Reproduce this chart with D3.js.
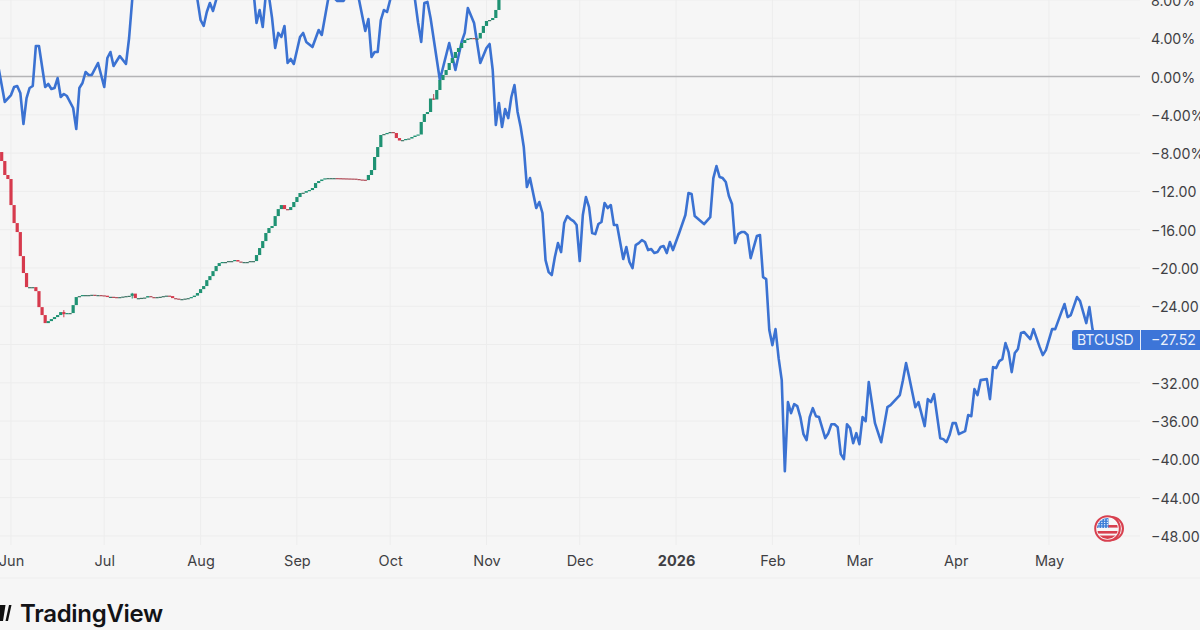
<!DOCTYPE html>
<html>
<head>
<meta charset="utf-8">
<title>BTCUSD performance</title>
<script src="https://cdn.jsdelivr.net/npm/d3@7"></script>
<style>
  html, body { margin: 0; padding: 0; background: #f6f6f6; overflow: hidden; }
  svg { display: block; }
  text { font-family: Inter, Roboto, "Open Sans", sans-serif; }
</style>
</head>
<body>
<svg id="chart" width="1200" height="630"></svg>
<script>
// Day numbers count from 1 June 2025; values are percentage change.
const btcDays = [-4,-2,0,1,2,3,4,5,6,7,8,9,11,12,13,14,15,16,17,18,20,21,22,23,24,25,26,28,30,31,32,33,35,37,38,39,41,46,50,55,59,60,61,62,63,64,65,66,70,74,78,79,80,81,82,83,84,85,86,87,88,89,90,91,93,94,95,97,99,100,102,103,105,106,107,110,112,114,115,116,117,118,119,120,121,122,124,127,130,131,132,133,134,135,138,141,143,145,146,147,149,151,153,154,155,156,157,158,159,160,161,162,163,164,165,166,167,169,170,171,172,173,174,175,176,177,178,179,180,181,182,183,184,185,186,187,188,189,190,191,192,193,194,195,197,198,199,200,201,202,203,204,205,206,207,208,209,210,211,212,213,215,217,218,219,220,223,225,226,227,228,229,230,231,232,233,234,235,236,237,238,240,241,242,243,244,245,246,247,248,249,250,251,252,253,254,255,256,257,258,259,260,262,263,264,265,266,267,268,269,270,271,272,273,274,275,276,278,280,282,283,286,287,288,289,291,292,294,295,296,297,299,300,301,302,303,304,305,307,308,309,310,311,312,314,315,316,317,318,319,320,321,322,323,324,325,326,328,329,331,332,333,335,336,338,339,340,341,343,344,346,347,348,349];
const btcValues = [0.89,-2.66,-1.94,-1.10,-0.99,-1.72,-4.96,-2.25,-1.20,-0.99,3.19,3.19,-1.10,-0.78,-1.31,-1.20,-0.16,-2.14,-1.83,-2.04,-3.29,-5.49,-1.20,-0.68,0.47,0.16,0.16,1.41,-1.10,1.93,2.56,1.10,2.14,1.31,4.02,7.99,12,14,13,15,12,8.0,5.90,5.28,6.74,7.68,6.84,7.99,11,12.5,9,5.59,6.95,5.17,8.6,8.4,6.11,2.98,4.55,4.13,5.28,1.41,1.83,1.31,4.13,4.55,3.61,3.08,4.86,4.34,7.99,8.5,7.89,7.89,7.9,9.5,8.0,4.75,6.01,2.04,2.56,2.56,5.90,6.95,6.74,8.0,10,11.5,8,5.59,3.61,7.68,7.79,6.11,-0.37,3.50,0.68,3.61,4.55,7.16,5.59,1.41,2.98,3.40,0.68,-5.07,-2.77,-5.28,-3.40,-4.34,-2.14,-0.89,-3.71,-5.28,-7.37,-11.55,-10.61,-13.74,-13.11,-14.26,-19.18,-20.43,-20.74,-18.86,-17.40,-18.34,-15.31,-14.58,-14.89,-15.10,-15.52,-19.28,-14.47,-12.59,-13.64,-16.35,-16.46,-15.41,-15.20,-13.22,-13.74,-13.43,-15.52,-15.52,-19.07,-17.82,-19.38,-20.01,-17.61,-17.40,-17.09,-17.29,-18.13,-18.03,-18.44,-18.34,-17.82,-17.71,-18.44,-17.29,-18.13,-16.35,-14.47,-12.17,-12.28,-14.58,-15.41,-14.68,-10.61,-9.35,-10.50,-10.61,-11.02,-12.49,-13.32,-17.40,-16.46,-16.25,-16.25,-16.56,-18.97,-16.67,-16.56,-20.95,-21.16,-26.49,-28.06,-26.39,-29.42,-31.72,-41.23,-34.02,-35.17,-34.23,-34.44,-35.58,-37.36,-37.99,-35.58,-34.64,-35.48,-35.58,-37.78,-37.26,-36.32,-36.32,-36.63,-39.45,-39.97,-36.32,-36.73,-38.30,-37.26,-38.41,-35.58,-36.00,-31.92,-36.21,-38.20,-34.54,-34.33,-33.28,-31.72,-29.94,-31.40,-34.54,-34.02,-36.52,-33.70,-34.02,-33.18,-37.78,-37.88,-38.20,-37.46,-36.21,-36.21,-37.36,-37.05,-35.37,-35.48,-32.66,-33.28,-31.72,-31.61,-33.70,-30.36,-30.46,-29.73,-29.52,-27.85,-28.79,-30.88,-28.89,-28.47,-26.80,-26.70,-27.43,-26.39,-28.27,-29.10,-28.58,-26.39,-26.39,-24.61,-23.77,-25.13,-24.92,-23.04,-23.46,-25.76,-24.09,-26.39,-27.52];

// Daily closes of the compared symbol; each candle opens at the previous close.
const candleFirstDay = -3;
const candleFirstOpen = -7.89;
const candleCloses = [-8.83,-10.29,-10.71,-13.43,-15.31,-16.25,-18.76,-20.53,-22.0,-22.0,-22.0,-22.42,-24.09,-24.92,-25.76,-25.55,-25.34,-25.13,-24.92,-24.61,-24.82,-24.71,-24.71,-23.88,-23.04,-22.94,-22.83,-22.83,-22.83,-22.8,-22.85,-22.83,-22.86,-22.9,-23.04,-23.01,-23.04,-23.12,-23.04,-22.99,-22.94,-22.91,-22.68,-23.15,-23.15,-23.12,-23.09,-22.94,-23.04,-23.09,-23.04,-23.01,-22.94,-22.89,-22.94,-23.15,-23.2,-23.25,-23.25,-23.2,-23.15,-23.04,-22.89,-22.62,-22.21,-21.89,-21.27,-20.85,-20.33,-19.8,-19.49,-19.38,-19.38,-19.28,-19.28,-19.17,-19.33,-19.38,-19.38,-19.38,-19.28,-19.28,-18.65,-17.92,-17.19,-16.35,-15.83,-15.62,-14.58,-13.85,-13.43,-13.85,-13.95,-13.64,-13.11,-12.59,-12.17,-12.14,-11.97,-11.86,-11.65,-11.13,-10.92,-10.76,-10.64,-10.61,-10.61,-10.61,-10.62,-10.63,-10.64,-10.65,-10.66,-10.67,-10.71,-10.76,-10.78,-10.82,-10.29,-9.77,-8.41,-7.37,-6.11,-6.01,-5.90,-5.80,-5.90,-6.43,-6.69,-6.64,-6.53,-6.48,-6.32,-6.17,-6.06,-4.75,-3.92,-3.71,-2.30,-2.40,-1.41,-0.37,0.16,0.68,1.41,1.93,2.56,2.98,3.50,3.81,3.97,4.02,3.92,3.97,4.55,5.28,5.80,5.90,6.11,6.95,8.1];
const wickDays = [17, 39, 136];
const wickHighs = [-24.40, -22.60, -1.83];
const wickLows = [-25.15, -23.20, -2.45];

const yTicks = [8,4,0,-4,-8,-12,-16,-20,-24,-28,-32,-36,-40,-44,-48];
// The price tag covers the -28 position, so that row carries no scale label.
const yLabelTicks = [8,4,0,-4,-8,-12,-16,-20,-24,-32,-36,-40,-44,-48];
const monthTicks = ["2025-06-01","2025-07-01","2025-08-01","2025-09-01","2025-10-01","2025-11-01","2025-12-01","2026-01-01","2026-02-01","2026-03-01","2026-04-01","2026-05-01"];
const monthLabels = ["Jun","Jul","Aug","Sep","Oct","Nov","Dec","2026","Feb","Mar","Apr","May"];
const symbolName = "BTCUSD";
const lastValueText = "\u221227.52";
const brandName = "TradingView";

const paneRight = 1140;
const gridBottom = 545;
const axisRule = 578;

const origin = Date.UTC(2025, 5, 1);
const dayDate = d => new Date(origin + d * 864e5);
const monthDates = monthTicks.map(s => new Date(s + "T00:00:00Z"));

const x = d3.scaleUtc().domain([monthDates[0], monthDates[11]]).range([11, 1049]);
const y = d3.scaleLinear().domain([0, -48]).range([76.5, 536]);

const svg = d3.select("#chart");
svg.append("rect").attr("width", 1200).attr("height", 630).attr("fill", "#f6f6f6");

// Grid
const grid = svg.append("g");
grid.selectAll("line.h").data(yTicks).join("line").attr("class", "h")
  .attr("x1", 0).attr("x2", paneRight)
  .attr("y1", d => y(d)).attr("y2", d => y(d))
  .attr("stroke", "#ededed").attr("stroke-width", 1);
grid.selectAll("line.v").data(monthDates).join("line").attr("class", "v")
  .attr("x1", d => x(d)).attr("x2", d => x(d))
  .attr("y1", 0).attr("y2", gridBottom)
  .attr("stroke", "#ededed").attr("stroke-width", 1);
svg.append("line").attr("x1", 0).attr("x2", 1200).attr("y1", axisRule).attr("y2", axisRule)
  .attr("stroke", "#eeeeee");

// Zero baseline
svg.append("line").attr("x1", 0).attr("x2", paneRight)
  .attr("y1", y(0)).attr("y2", y(0))
  .attr("stroke", "#b4b4b6").attr("stroke-width", 1.3);

// BTC line
const btcPoints = btcDays.map((d, i) => [dayDate(d), btcValues[i]]);
const lastPoint = btcPoints[btcPoints.length - 1];
svg.append("path").datum(btcPoints)
  .attr("fill", "none").attr("stroke", "#3b72d2").attr("stroke-width", 2.6)
  .attr("stroke-linejoin", "round")
  .attr("d", d3.line().x(d => x(d[0])).y(d => y(d[1])));

// Candles
const UP = "#1f9273", DOWN = "#d63a4d", FLAT_UP = "#3f7566", FLAT_DOWN = "#b04c58";
const candles = candleCloses.map((c, i) => ({
  day: candleFirstDay + i,
  open: i ? candleCloses[i - 1] : candleFirstOpen,
  close: c
}));
const candleWidth = 3.2;
const candleColor = d => {
  const thin = Math.abs(y(d.open) - y(d.close)) < 1;
  if (d.close >= d.open) return thin ? FLAT_UP : UP;
  return thin ? FLAT_DOWN : DOWN;
};
const cg = svg.append("g");
cg.selectAll("line").data(wickDays).join("line")
  .attr("x1", d => x(dayDate(d))).attr("x2", d => x(dayDate(d)))
  .attr("y1", (d, i) => y(wickHighs[i])).attr("y2", (d, i) => y(wickLows[i]))
  .attr("stroke", (d, i) => candleColor(candles[d - candleFirstDay]))
  .attr("stroke-width", 1);
cg.selectAll("rect").data(candles).join("rect")
  .attr("x", d => x(dayDate(d.day)) - candleWidth / 2)
  .attr("width", candleWidth)
  .attr("y", d => Math.min(y(d.open), y(d.close)))
  .attr("height", d => Math.max(1.2, Math.abs(y(d.open) - y(d.close))))
  .attr("fill", candleColor);

// Percentage scale; the two-digit rows show only what fits in the strip.
const fmt = v => (v < 0 ? "\u2212" : "") + Math.abs(v).toFixed(2) + (Math.abs(v) >= 10 ? "" : "%");
const yAxis = d3.axisRight(y).tickValues(yLabelTicks).tickFormat(fmt).tickSize(0).tickPadding(0);
const yG = svg.append("g").attr("transform", "translate(1151,1)").call(yAxis);
yG.select(".domain").remove();
yG.selectAll("text").attr("fill", "#3f3f44").attr("font-size", 14.2)
  .style("font-family", "Inter, Roboto, sans-serif");

// Time scale
const xAxis = d3.axisBottom(x).tickValues(monthDates)
  .tickFormat((d, i) => monthLabels[i]).tickSize(0).tickPadding(0);
const xG = svg.append("g").attr("transform", "translate(0,556)").call(xAxis);
xG.select(".domain").remove();
xG.selectAll("text").attr("fill", "#3f3f44").attr("font-size", 14.5)
  .attr("font-weight", (d, i) => monthLabels[i] === "2026" ? 700 : 400)
  .style("font-family", "Inter, Roboto, sans-serif");

// Last-value tag on the scale
const tagY = y(lastPoint[1]);
const tag = svg.append("g");
tag.append("rect").attr("x", 1072).attr("y", tagY - 10).attr("width", 140).attr("height", 20)
  .attr("rx", 2.5).attr("fill", "#3d75d8");
tag.append("line").attr("x1", 1140.5).attr("x2", 1140.5)
  .attr("y1", tagY - 10).attr("y2", tagY + 10).attr("stroke", "#e6edfa").attr("stroke-width", 1);
tag.append("text").attr("x", 1077).attr("y", tagY + 5).attr("font-size", 14)
  .attr("fill", "#eaf0fb").text(symbolName);
tag.append("text").attr("x", 1151).attr("y", tagY + 5).attr("font-size", 14.2)
  .attr("fill", "#eaf0fb").text(lastValueText);

// Currency badge
const badge = svg.append("g").attr("transform", "translate(1108.5,528.5)");
const defs = svg.append("defs");
defs.append("clipPath").attr("id", "flagClip").append("circle").attr("r", 10.5);
badge.append("circle").attr("cx", 3).attr("r", 11.5).attr("fill", "#f3e3e5")
  .attr("stroke", "#d8404f").attr("stroke-width", 2);
badge.append("circle").attr("cx", -1).attr("r", 12.3).attr("fill", "#fafafa")
  .attr("stroke", "#d8404f").attr("stroke-width", 2);
const flag = badge.append("g").attr("clip-path", "url(#flagClip)").attr("transform", "translate(-1,0)");
flag.append("rect").attr("x", -12).attr("y", -12).attr("width", 24).attr("height", 24).attr("fill", "#f7f7f7");
[[-3.5, 2.6], [2.5, 2.6], [7, 5]].forEach(s => flag.append("rect")
  .attr("x", -12).attr("y", s[0]).attr("width", 24).attr("height", s[1]).attr("fill", "#d8404f"));
flag.append("rect").attr("x", -12).attr("y", -12).attr("width", 13).attr("height", 11.5).attr("fill", "#3f7fd8");
d3.range(4).forEach(r => d3.range(4).forEach(c => flag.append("circle")
  .attr("cx", -8.5 + c * 2.8).attr("cy", -8.5 + r * 2.4).attr("r", 0.7).attr("fill", "#e8f0fb")));

// Brand mark and wordmark
svg.append("path").attr("d", "M-6 605H5.5L3 621H-6Z M5.5 621L9 605H11.5L8 621Z").attr("fill", "#111");
svg.append("text").attr("x", 20).attr("y", 622).attr("font-size", 24).attr("font-weight", 600)
  .attr("letter-spacing", -0.3).attr("fill", "#131316").text(brandName);
</script>
</body>
</html>
